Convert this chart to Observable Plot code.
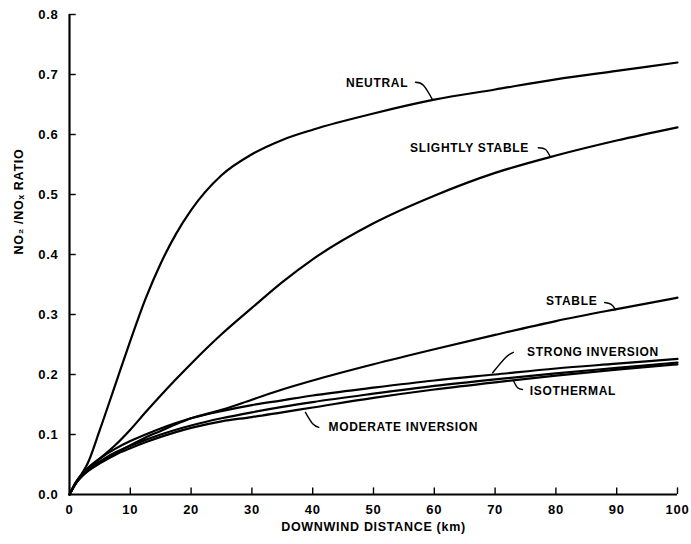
<!DOCTYPE html>
<html>
<head>
<meta charset="utf-8">
<script src="https://cdn.jsdelivr.net/npm/d3@7"></script>
<script src="https://cdn.jsdelivr.net/npm/@observablehq/plot@0.6"></script>
<style>
  html, body { margin: 0; padding: 0; background: #fff; }
</style>
</head>
<body>
<div id="chart"></div>
<script>
// Downwind distance (km)
const distance = [0, 1, 2, 3, 5, 7.5, 10, 12.5, 15, 17.5, 20, 25, 30, 35, 40, 50, 60, 70, 80, 90, 100];

// NO2/NOx ratio per stability class
const neutral         = [0, 0.018, 0.034, 0.052, 0.108, 0.182, 0.256, 0.326, 0.385, 0.434, 0.474, 0.532, 0.567, 0.591, 0.608, 0.635, 0.658, 0.675, 0.692, 0.706, 0.720];
const slightlyStable  = [0, 0.018, 0.032, 0.043, 0.060, 0.082, 0.108, 0.137, 0.165, 0.192, 0.218, 0.267, 0.311, 0.354, 0.392, 0.452, 0.498, 0.536, 0.565, 0.590, 0.612];
const stable          = [0, 0.018, 0.030, 0.039, 0.053, 0.068, 0.082, 0.095, 0.106, 0.117, 0.127, 0.141, 0.158, 0.175, 0.190, 0.217, 0.242, 0.266, 0.289, 0.309, 0.328];
const strongInversion = [0, 0.020, 0.034, 0.044, 0.060, 0.076, 0.089, 0.100, 0.110, 0.119, 0.127, 0.139, 0.149, 0.157, 0.165, 0.178, 0.190, 0.200, 0.210, 0.218, 0.226];
const isothermal      = [0, 0.019, 0.032, 0.041, 0.055, 0.070, 0.081, 0.091, 0.100, 0.108, 0.115, 0.127, 0.137, 0.146, 0.154, 0.168, 0.181, 0.192, 0.202, 0.211, 0.220];
const moderateInv     = [0, 0.018, 0.030, 0.039, 0.052, 0.066, 0.077, 0.087, 0.096, 0.104, 0.111, 0.122, 0.129, 0.137, 0.145, 0.161, 0.175, 0.187, 0.198, 0.208, 0.217];

const seriesNames  = ["NEUTRAL", "SLIGHTLY STABLE", "STABLE", "STRONG INVERSION", "ISOTHERMAL", "MODERATE INVERSION"];
const seriesValues = [neutral, slightlyStable, stable, strongInversion, isothermal, moderateInv];

// Curve labels (data units) and their hooked leaders
const labelX = [50.6, 65.8, 82.6, 86.1, 82.8, 54.9];
const labelY = [0.685, 0.578, 0.322, 0.237, 0.172, 0.112];
const leaderX = [[56.9, 58.2, 59.7], [77.1, 78.3, 79.1], [88.0, 89.1, 89.8], [73.0, 71.7, 69.6], [74.5, 73.7, 73.0], [41.0, 40.0, 38.8]];
const leaderY = [[0.687, 0.682, 0.658], [0.578, 0.575, 0.562], [0.320, 0.317, 0.308], [0.237, 0.228, 0.203], [0.175, 0.178, 0.190], [0.112, 0.118, 0.137]];

const xTicks = [0, 10, 20, 30, 40, 50, 60, 70, 80, 90, 100];
const yTicks = [0, 0.1, 0.2, 0.3, 0.4, 0.5, 0.6, 0.7, 0.8];
const xTitle = "DOWNWIND DISTANCE (km)";
const yTitle = "NO\u2082 /NO\u2093 RATIO";

const rows = [];
seriesNames.forEach((name, i) => distance.forEach((d, j) => rows.push({series: name, x: d, y: seriesValues[i][j]})));
const labels = seriesNames.map((name, i) => ({text: name, x: labelX[i], y: labelY[i]}));
const leaders = [];
seriesNames.forEach((name, i) => leaderX[i].forEach((lx, j) => leaders.push({series: name, x: lx, y: leaderY[i][j]})));

const chart = Plot.plot({
  width: 691,
  height: 544,
  marginLeft: 69,
  marginRight: 14,
  marginTop: 14,
  marginBottom: 50,
  style: {fontFamily: "'Liberation Sans', Arial, sans-serif", fontSize: "12px", fontWeight: "bold", letterSpacing: "0.7px", color: "#000", background: "#fff"},
  x: {domain: [0, 100]},
  y: {domain: [0, 0.8]},
  marks: [
    Plot.axisX({ticks: xTicks, tickSize: 0, tickPadding: 10, label: null, tickFormat: d3.format("d"), fontSize: 13}),
    Plot.axisY({ticks: yTicks, tickSize: 0, tickPadding: 11, label: null, tickFormat: d3.format(".1f"), fontSize: 13}),
    Plot.ruleX(xTicks.slice(1), {y1: 0, y2: 0.011, stroke: "#000", strokeWidth: 1.4}),
    Plot.ruleY(yTicks.slice(1), {x1: 0, x2: 1.1, stroke: "#000", strokeWidth: 1.4}),
    Plot.ruleY([0], {x1: 0, x2: 100, stroke: "#000", strokeWidth: 2.2}),
    Plot.ruleX([0], {y1: 0, y2: 0.8, stroke: "#000", strokeWidth: 2.2}),
    Plot.line(rows, {x: "x", y: "y", z: "series", curve: "monotone-x", stroke: "#000", strokeWidth: 2.2}),
    Plot.line(leaders, {x: "x", y: "y", z: "series", curve: "natural", stroke: "#000", strokeWidth: 1.4}),
    Plot.text(labels, {x: "x", y: "y", text: "text", textAnchor: "middle", fill: "#000", fontSize: 12, fontWeight: "bold"}),
    Plot.text([xTitle], {frameAnchor: "bottom", dy: 36, fill: "#000", fontSize: 12.5, fontWeight: "bold"}),
    Plot.text([yTitle], {frameAnchor: "left", dx: -51, rotate: -90, fill: "#000", fontSize: 12.5, fontWeight: "bold"})
  ]
});
document.getElementById("chart").appendChild(chart);
</script>
</body>
</html>
